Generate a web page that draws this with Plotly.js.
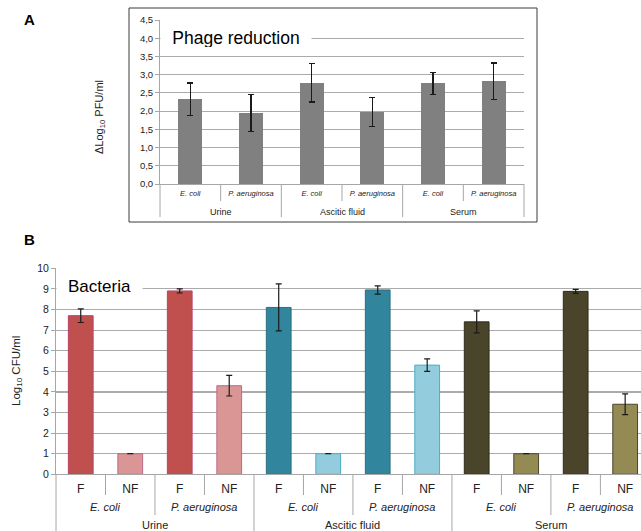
<!DOCTYPE html>
<html><head><meta charset="utf-8">
<script src="https://cdn.plot.ly/plotly-3.0.1.min.js"></script>
<style>html,body{margin:0;padding:0;background:#fff}#chart{width:641px;height:531px}</style>
</head><body><div id="chart"></div>
<script>
// ---------- Panel A: phage reduction ----------
const phageSpecies = ['E. coli','P. aeruginosa','E. coli','P. aeruginosa','E. coli','P. aeruginosa'];
const phageFluid   = ['Urine','Urine','Ascitic fluid','Ascitic fluid','Serum','Serum'];
const phageReduction = [2.33, 1.95, 2.78, 1.98, 2.76, 2.82];
const phageError     = [0.44, 0.50, 0.53, 0.40, 0.30, 0.50];
const phageTicks = [0,0.5,1,1.5,2,2.5,3,3.5,4,4.5];

// ---------- Panel B: bacteria ----------
const bactTreatment = ['F','NF','F','NF','F','NF','F','NF','F','NF','F','NF'];
const bactSpecies = ['E. coli','E. coli','P. aeruginosa','P. aeruginosa',
                     'E. coli','E. coli','P. aeruginosa','P. aeruginosa',
                     'E. coli','E. coli','P. aeruginosa','P. aeruginosa'];
const bactFluid = ['Urine','Urine','Urine','Urine',
                   'Ascitic fluid','Ascitic fluid','Ascitic fluid','Ascitic fluid',
                   'Serum','Serum','Serum','Serum'];
const bactLog   = [7.70, 1.00, 8.90, 4.30, 8.10, 1.00, 8.95, 5.30, 7.40, 1.00, 8.88, 3.40];
const bactError = [0.33, 0.00, 0.10, 0.50, 1.14, 0.00, 0.20, 0.30, 0.53, 0.00, 0.10, 0.50];

// colour styles by fluid / treatment
const fillColors = {
  'Urine':        {F:'#C0504D', NF:'#D99694'},
  'Ascitic fluid':{F:'#31859C', NF:'#93CDDD'},
  'Serum':        {F:'#4A452A', NF:'#948A54'}
};
const edgeColors = {
  'Urine':        {F:'#B8406A', NF:'#C0668A'},
  'Ascitic fluid':{F:'#2A6F82', NF:'#4BACC6'},
  'Serum':        {F:'#2E2B1A', NF:'#4A452A'}
};

const W = 641, H = 531;
const px = v => v / W;
const py = v => 1 - v / H;
const FONT = 'Liberation Sans, Arial, sans-serif';
const GRID = '#ababab', AXIS = '#a6a6a6', TXT = '#222';

const idxA = phageReduction.map((_, i) => i);
const idxB = bactLog.map((_, i) => i);

const traces = [
  {
    type:'bar', x: idxA, y: phageReduction, xaxis:'x', yaxis:'y',
    width: 0.4,
    marker:{color:'#808080', line:{width:0}},
    error_y:{type:'data', array: phageError, visible:true, color:'#1a1a1a', thickness:1.2, width:3},
    hoverinfo:'skip'
  },
  {
    type:'bar', x: idxB, y: bactLog, xaxis:'x2', yaxis:'y2',
    width: 0.5,
    marker:{
      color: bactFluid.map((f, i) => fillColors[f][bactTreatment[i]]),
      line:{width:1, color: bactFluid.map((f, i) => edgeColors[f][bactTreatment[i]])}
    },
    error_y:{type:'data', array: bactError, visible:true, color:'#1a1a1a', thickness:1.2, width:3},
    hoverinfo:'skip'
  }
];

const shapes = [];
const annotations = [];

// Panel A border
shapes.push({type:'rect', xref:'paper', yref:'paper', x0:px(129), x1:px(537), y0:py(222), y1:py(8),
  line:{color:'#3a3a3a', width:1}, fillcolor:'rgba(0,0,0,0)', layer:'below'});

const domAx = [px(160), px(524)];
const domBx = [px(56), 1];

// Category dividers, panel A
function dividersA() {
  const n = phageSpecies.length;
  for (let k = -1; k < n; k++) {
    const edge = (k === -1 || k === n - 1);
    const groupBreak = edge || phageFluid[k] !== phageFluid[k + 1];
    const y1 = groupBreak ? py(217) : py(201);
    if (edge) {
      const xp = k === -1 ? domAx[0] : domAx[1];
      shapes.push({type:'line', xref:'paper', yref:'paper', x0:xp, x1:xp, y0:py(184), y1:y1, line:{color:AXIS, width:1}});
    } else {
      shapes.push({type:'line', xref:'x', yref:'paper', x0:k + 0.5, x1:k + 0.5, y0:py(184), y1:y1, line:{color:AXIS, width:1}});
    }
  }
}
dividersA();

// Category dividers, panel B
function dividersB() {
  const n = bactTreatment.length;
  shapes.push({type:'line', xref:'paper', yref:'paper', x0:domBx[0], x1:domBx[0], y0:py(474.3), y1:0, line:{color:AXIS, width:1}});
  for (let k = 0; k < n - 1; k++) {
    let y1;
    if (bactFluid[k] !== bactFluid[k + 1]) y1 = 0;
    else if (bactSpecies[k] !== bactSpecies[k + 1]) y1 = py(515);
    else y1 = py(495);
    shapes.push({type:'line', xref:'x2', yref:'paper', x0:k + 0.5, x1:k + 0.5, y0:py(474.3), y1:y1, line:{color:AXIS, width:1}});
  }
}
dividersB();

// group label helper: centre of runs
function runs(arr) {
  const out = [];
  let start = 0;
  for (let i = 1; i <= arr.length; i++) {
    if (i === arr.length || arr[i] !== arr[start]) {
      out.push({label: arr[start], center: (start + i - 1) / 2});
      start = i;
    }
  }
  return out;
}

// Panel A fluid labels
runs(phageFluid).forEach(r => annotations.push({
  xref:'x', yref:'paper', x:r.center, y:py(211.5), text:r.label, showarrow:false,
  xanchor:'center', yanchor:'middle', font:{family:FONT, size:9, color:TXT}
}));

// Panel B species labels (runs of species within fluid)
const spKey = bactSpecies.map((s, i) => bactFluid[i] + '|' + s);
runs(spKey).forEach(r => annotations.push({
  xref:'x2', yref:'paper', x:r.center, y:py(507), text:'<i>' + r.label.split('|')[1] + '</i>', showarrow:false,
  xanchor:'center', yanchor:'middle', font:{family:FONT, size:11, color:TXT}
}));
runs(bactFluid).forEach(r => annotations.push({
  xref:'x2', yref:'paper', x:r.center, y:py(524.5), text:r.label, showarrow:false,
  xanchor:'center', yanchor:'middle', font:{family:FONT, size:11, color:TXT}
}));

// Panel letters
annotations.push({xref:'paper', yref:'paper', x:px(29), y:py(19), text:'<b>A</b>', showarrow:false,
  xanchor:'center', yanchor:'middle', font:{family:FONT, size:15, color:'#000'}});
annotations.push({xref:'paper', yref:'paper', x:px(29), y:py(239), text:'<b>B</b>', showarrow:false,
  xanchor:'center', yanchor:'middle', font:{family:FONT, size:15, color:'#000'}});

// In-plot titles with white background
annotations.push({xref:'paper', yref:'paper', x:px(236), y:py(38), text:'Phage reduction', showarrow:false,
  xanchor:'center', yanchor:'middle', width:150, height:18, bgcolor:'#fff', borderpad:0,
  font:{family:FONT, size:17.5, color:'#000'}});
annotations.push({xref:'paper', yref:'paper', x:px(99), y:py(286), text:'Bacteria', showarrow:false,
  xanchor:'center', yanchor:'middle', width:85, height:18, bgcolor:'#fff', borderpad:0,
  font:{family:FONT, size:17, color:'#000'}});

// Y-axis titles
annotations.push({xref:'paper', yref:'paper', x:px(100), y:py(117), text:'ΔLog<sub>10</sub> PFU/ml', showarrow:false,
  textangle:-90, xanchor:'center', yanchor:'middle', font:{family:FONT, size:11, color:TXT}});
annotations.push({xref:'paper', yref:'paper', x:px(17), y:py(371), text:'Log<sub>10</sub> CFU/ml', showarrow:false,
  textangle:-90, xanchor:'center', yanchor:'middle', font:{family:FONT, size:11.5, color:TXT}});

const layout = {
  width: W, height: H,
  margin:{l:0, r:0, t:0, b:0, pad:0},
  paper_bgcolor:'#fff', plot_bgcolor:'rgba(0,0,0,0)',
  separators:',.',
  showlegend:false,
  bargap:0,
  font:{family:FONT, color:TXT},
  xaxis:{
    domain: domAx, range:[-0.5, phageSpecies.length - 0.5], anchor:'y',
    tickmode:'array', tickvals: idxA, ticktext: phageSpecies.map(s => '<i>' + s + '</i>'),
    ticks:'', showgrid:false, zeroline:false, showline:true, linecolor:AXIS, linewidth:1,
    tickfont:{family:FONT, size:7.5, color:TXT}, ticklabelstandoff:2, fixedrange:true
  },
  yaxis:{
    domain:[py(184), py(20)], range:[0, 4.5], anchor:'x',
    tickmode:'array', tickvals: phageTicks, tickformat:'.1f',
    ticks:'outside', ticklen:4, tickcolor:AXIS, showline:true, linecolor:AXIS, linewidth:1,
    showgrid:true, gridcolor:GRID, gridwidth:1.2, zeroline:false,
    tickfont:{family:FONT, size:9.5, color:TXT}, fixedrange:true
  },
  xaxis2:{
    domain: domBx, range:[-0.5, 11.32], anchor:'y2',
    tickmode:'array', tickvals: idxB, ticktext: bactTreatment,
    ticks:'', showgrid:false, zeroline:false, showline:true, linecolor:AXIS, linewidth:1,
    tickfont:{family:FONT, size:12, color:TXT}, ticklabelstandoff:3, fixedrange:true
  },
  yaxis2:{
    domain:[py(474.3), py(268.3)], range:[0, 10], anchor:'x2', dtick:1,
    ticks:'outside', ticklen:4, tickcolor:AXIS, showline:true, linecolor:AXIS, linewidth:1,
    showgrid:true, gridcolor:GRID, gridwidth:1.2, zeroline:false,
    tickfont:{family:FONT, size:10.5, color:TXT}, fixedrange:true
  },
  shapes: shapes,
  annotations: annotations
};

Plotly.newPlot('chart', traces, layout, {displayModeBar:false, staticPlot:true});
</script>
</body></html>
